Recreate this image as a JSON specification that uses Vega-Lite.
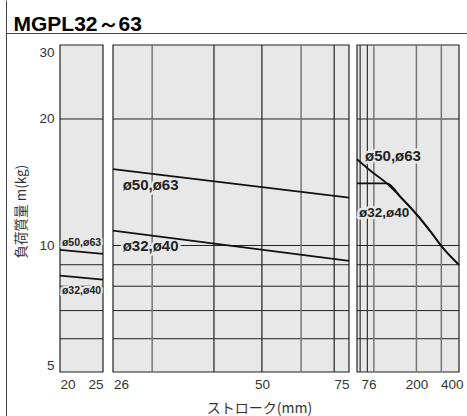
{
  "$schema": "https://vega.github.io/schema/vega-lite/v6.json",
  "width": 399,
  "height": 327,
  "autosize": {"type": "none"},
  "padding": {"left": 60, "top": 45, "right": 8, "bottom": 44},
  "background": "white",
  "config": {"view": {"stroke": null}},
  "datasets": {
    "p1lines": [
      {"s": "ø50,ø63", "x": 20, "m": 9.76}, {"s": "ø50,ø63", "x": 25, "m": 9.55},
      {"s": "ø32,ø40", "x": 20, "m": 8.48}, {"s": "ø32,ø40", "x": 25, "m": 8.29}
    ],
    "p2lines": [
      {"s": "ø50,ø63", "x": 25, "m": 15.2}, {"s": "ø50,ø63", "x": 75, "m": 13.0},
      {"s": "ø32,ø40", "x": 25, "m": 10.85}, {"s": "ø32,ø40", "x": 75, "m": 9.19}
    ],
    "p3lines": [
      {"s": "ø50,ø63", "x": 76, "m": 16.04}, {"s": "ø50,ø63", "x": 96.6, "m": 14.98},
      {"s": "ø50,ø63", "x": 123.4, "m": 14.06}, {"s": "ø50,ø63", "x": 157.7, "m": 12.95},
      {"s": "ø50,ø63", "x": 207, "m": 11.71}, {"s": "ø50,ø63", "x": 257, "m": 10.69},
      {"s": "ø50,ø63", "x": 303, "m": 9.93}, {"s": "ø50,ø63", "x": 400, "m": 8.99},
      {"s": "ø32,ø40", "x": 76, "m": 14.06}, {"s": "ø32,ø40", "x": 123.4, "m": 14.06},
      {"s": "ø32,ø40", "x": 157.7, "m": 12.95}, {"s": "ø32,ø40", "x": 207, "m": 11.71},
      {"s": "ø32,ø40", "x": 257, "m": 10.69}, {"s": "ø32,ø40", "x": 303, "m": 9.93},
      {"s": "ø32,ø40", "x": 400, "m": 8.99}
    ],
    "p1labels": [{"t": "ø50,ø63", "x": 22.5, "m": 10.14}, {"t": "ø32,ø40", "x": 22.5, "m": 7.79}],
    "p2labels": [{"t": "ø50,ø63", "x": 29.78, "m": 13.93}, {"t": "ø32,ø40", "x": 29.78, "m": 9.95}],
    "p3labelA": [{"t": "ø50,ø63", "x": 136.5, "m": 16.3}],
    "p3labelB": [{"t": "ø32,ø40", "x": 118, "m": 11.93}],
    "hgrid": [{"m": 6}, {"m": 7}, {"m": 8}, {"m": 9}, {"m": 10}, {"m": 20}],
    "one": [{"p": 1}]
  },
  "resolve": {
    "scale": {"x": "independent", "y": "independent"},
    "axis": {"x": "independent", "y": "independent"}
  },
  "layer": [
    {
      "data": {"values": []},
      "mark": {"type": "point", "opacity": 0},
      "encoding": {
        "x": {
          "field": "fx", "type": "quantitative",
          "scale": {"domain": [0, 1], "range": [-54, 407], "nice": false, "zero": false},
          "axis": {
            "orient": "top", "offset": 12, "domain": true, "domainColor": "#444", "domainWidth": 1,
            "ticks": false, "labels": false, "grid": false,
            "title": "MGPL32～63", "titleX": -47, "titleY": -3, "titleAlign": "left", "titleAnchor": "start",
            "titleBaseline": "alphabetic", "titleFont": "Liberation Sans", "titleFontSize": 21,
            "titleFontWeight": "bold", "titleColor": "#000", "titleAngle": 0
          }
        },
        "y": {
          "field": "fy", "type": "quantitative",
          "scale": {"domain": [0, 1], "range": [371, -45], "nice": false, "zero": false},
          "axis": {
            "orient": "left", "offset": 54, "domain": true, "domainColor": "#444", "domainWidth": 1,
            "ticks": false, "labels": false, "grid": false, "title": null
          }
        }
      }
    },
    {
      "data": {"name": "one"},
      "mark": {"type": "rect", "fill": "#e8e8e8", "stroke": "#222", "strokeWidth": 1.2},
      "encoding": {
        "x": {
          "datum": 20, "type": "quantitative",
          "scale": {"type": "linear", "domain": [20, 25], "range": [0, 43], "nice": false, "zero": false},
          "axis": {
            "orient": "bottom", "values": [20, 25], "labelFlush": true, "grid": false, "domain": false, "ticks": false,
            "labelPadding": 5, "labelFont": "Liberation Sans", "labelFontSize": 13.5, "labelColor": "#333", "title": null
          }
        },
        "x2": {"datum": 25},
        "y": {
          "datum": 5, "type": "quantitative",
          "scale": {"type": "log", "domain": [5, 30], "nice": false},
          "axis": {
            "orient": "left", "values": [5, 10, 20, 30], "labelFlush": true, "grid": false, "domain": false, "ticks": false,
            "labelPadding": 6, "labelFont": "Liberation Sans", "labelFontSize": 13.5, "labelColor": "#333",
            "title": "負荷質量 m(kg)", "titleFont": "Noto Sans CJK JP", "titleFontSize": 13.5, "titleFontWeight": "normal",
            "titleColor": "#333", "titleX": -39, "titleY": 166, "titleAngle": -90, "titleBaseline": "middle", "titleAlign": "center"
          }
        },
        "y2": {"datum": 30}
      }
    },
    {
      "data": {"name": "hgrid"},
      "mark": {"type": "rule", "color": "#222", "strokeWidth": 1},
      "encoding": {
        "x": {"datum": 20, "type": "quantitative", "scale": {"type": "linear", "domain": [20, 25], "range": [0, 43], "nice": false, "zero": false}, "axis": null},
        "x2": {"datum": 25},
        "y": {"field": "m", "type": "quantitative", "scale": {"type": "log", "domain": [5, 30], "nice": false}, "axis": null}
      }
    },
    {
      "data": {"name": "p1labels"},
      "mark": {"type": "text", "font": "Liberation Sans", "fontWeight": "bold", "fontSize": 10.5, "align": "center", "baseline": "middle", "stroke": "#e8e8e8", "strokeWidth": 4, "strokeJoin": "round", "fill": "#e8e8e8"},
      "encoding": {
        "x": {"field": "x", "type": "quantitative", "scale": {"type": "linear", "domain": [20, 25], "range": [0, 43], "nice": false, "zero": false}, "axis": null},
        "y": {"field": "m", "type": "quantitative", "scale": {"type": "log", "domain": [5, 30], "nice": false}, "axis": null},
        "text": {"field": "t"}
      }
    },
    {
      "data": {"name": "p1lines"},
      "mark": {"type": "line", "color": "#111", "strokeWidth": 1.8},
      "encoding": {
        "x": {"field": "x", "type": "quantitative", "scale": {"type": "linear", "domain": [20, 25], "range": [0, 43], "nice": false, "zero": false}, "axis": null},
        "y": {"field": "m", "type": "quantitative", "scale": {"type": "log", "domain": [5, 30], "nice": false}, "axis": null},
        "detail": {"field": "s"}
      }
    },
    {
      "data": {"name": "p1labels"},
      "mark": {"type": "text", "font": "Liberation Sans", "fontWeight": "bold", "fontSize": 10.5, "align": "center", "baseline": "middle", "fill": "#222"},
      "encoding": {
        "x": {"field": "x", "type": "quantitative", "scale": {"type": "linear", "domain": [20, 25], "range": [0, 43], "nice": false, "zero": false}, "axis": null},
        "y": {"field": "m", "type": "quantitative", "scale": {"type": "log", "domain": [5, 30], "nice": false}, "axis": null},
        "text": {"field": "t"}
      }
    },
    {
      "data": {"name": "one"},
      "mark": {"type": "rect", "fill": "#e8e8e8", "stroke": "#222", "strokeWidth": 1.2},
      "encoding": {
        "x": {
          "datum": 25, "type": "quantitative",
          "scale": {"type": "log", "domain": [25, 75], "range": [53, 289], "nice": false},
          "axis": {
            "orient": "bottom", "values": [26, 50, 75], "labelFlush": 10,
            "labelOffset": {"condition": {"test": "datum.value == 26", "value": -8}, "value": 0},
            "grid": false, "domain": false, "ticks": false,
            "labelPadding": 5, "labelFont": "Liberation Sans", "labelFontSize": 13.5, "labelColor": "#333",
            "title": "ストローク(mm)", "titleFont": "Noto Sans CJK JP", "titleFontSize": 14, "titleFontWeight": "normal",
            "titleColor": "#333", "titleX": 199, "titleY": 36, "titleBaseline": "middle", "titleAlign": "center", "titleAngle": 0
          }
        },
        "x2": {"datum": 75},
        "y": {"datum": 5, "type": "quantitative", "scale": {"type": "log", "domain": [5, 30], "nice": false}, "axis": null},
        "y2": {"datum": 30}
      }
    },
    {
      "data": {"name": "hgrid"},
      "mark": {"type": "rule", "color": "#222", "strokeWidth": 1},
      "encoding": {
        "x": {"datum": 25, "type": "quantitative", "scale": {"type": "log", "domain": [25, 75], "range": [53, 289], "nice": false}, "axis": null},
        "x2": {"datum": 75},
        "y": {"field": "m", "type": "quantitative", "scale": {"type": "log", "domain": [5, 30], "nice": false}, "axis": null}
      }
    },
    {
      "data": {"values": [{"x": 30}, {"x": 60}]},
      "mark": {"type": "rule", "color": "#777", "strokeWidth": 1.5},
      "encoding": {
        "x": {"field": "x", "type": "quantitative", "scale": {"type": "log", "domain": [25, 75], "range": [53, 289], "nice": false}, "axis": null},
        "y": {"datum": 5, "type": "quantitative", "scale": {"type": "log", "domain": [5, 30], "nice": false}, "axis": null},
        "y2": {"datum": 30}
      }
    },
    {
      "data": {"values": [{"x": 40}, {"x": 50}, {"x": 70}]},
      "mark": {"type": "rule", "color": "#222", "strokeWidth": 1.2},
      "encoding": {
        "x": {"field": "x", "type": "quantitative", "scale": {"type": "log", "domain": [25, 75], "range": [53, 289], "nice": false}, "axis": null},
        "y": {"datum": 5, "type": "quantitative", "scale": {"type": "log", "domain": [5, 30], "nice": false}, "axis": null},
        "y2": {"datum": 30}
      }
    },
    {
      "data": {"name": "p2labels"},
      "mark": {"type": "text", "font": "Liberation Sans", "fontWeight": "bold", "fontSize": 15, "align": "center", "baseline": "middle", "stroke": "#e8e8e8", "strokeWidth": 5, "strokeJoin": "round", "fill": "#e8e8e8"},
      "encoding": {
        "x": {"field": "x", "type": "quantitative", "scale": {"type": "log", "domain": [25, 75], "range": [53, 289], "nice": false}, "axis": null},
        "y": {"field": "m", "type": "quantitative", "scale": {"type": "log", "domain": [5, 30], "nice": false}, "axis": null},
        "text": {"field": "t"}
      }
    },
    {
      "data": {"name": "p2lines"},
      "mark": {"type": "line", "color": "#111", "strokeWidth": 1.8},
      "encoding": {
        "x": {"field": "x", "type": "quantitative", "scale": {"type": "log", "domain": [25, 75], "range": [53, 289], "nice": false}, "axis": null},
        "y": {"field": "m", "type": "quantitative", "scale": {"type": "log", "domain": [5, 30], "nice": false}, "axis": null},
        "detail": {"field": "s"}
      }
    },
    {
      "data": {"name": "p2labels"},
      "mark": {"type": "text", "font": "Liberation Sans", "fontWeight": "bold", "fontSize": 15, "align": "center", "baseline": "middle", "fill": "#222"},
      "encoding": {
        "x": {"field": "x", "type": "quantitative", "scale": {"type": "log", "domain": [25, 75], "range": [53, 289], "nice": false}, "axis": null},
        "y": {"field": "m", "type": "quantitative", "scale": {"type": "log", "domain": [5, 30], "nice": false}, "axis": null},
        "text": {"field": "t"}
      }
    },
    {
      "data": {"name": "one"},
      "mark": {"type": "rect", "fill": "#e8e8e8", "stroke": "#222", "strokeWidth": 1.2},
      "encoding": {
        "x": {
          "datum": 76, "type": "quantitative",
          "scale": {"type": "log", "domain": [76, 400], "range": [297, 399], "nice": false},
          "axis": {
            "orient": "bottom", "values": [76, 200, 400], "labelFlush": 10,
            "labelOffset": {"condition": {"test": "datum.value != 200", "value": 4}, "value": 0},
            "grid": false, "domain": false, "ticks": false,
            "labelPadding": 5, "labelFont": "Liberation Sans", "labelFontSize": 13.5, "labelColor": "#333", "title": null
          }
        },
        "x2": {"datum": 400},
        "y": {"datum": 5, "type": "quantitative", "scale": {"type": "log", "domain": [5, 30], "nice": false}, "axis": null},
        "y2": {"datum": 30}
      }
    },
    {
      "data": {"name": "hgrid"},
      "mark": {"type": "rule", "color": "#222", "strokeWidth": 1},
      "encoding": {
        "x": {"datum": 76, "type": "quantitative", "scale": {"type": "log", "domain": [76, 400], "range": [297, 399], "nice": false}, "axis": null},
        "x2": {"datum": 400},
        "y": {"field": "m", "type": "quantitative", "scale": {"type": "log", "domain": [5, 30], "nice": false}, "axis": null}
      }
    },
    {
      "data": {"values": [{"x": 100}, {"x": 200}, {"x": 300}]},
      "mark": {"type": "rule", "color": "#777", "strokeWidth": 1.5},
      "encoding": {
        "x": {"field": "x", "type": "quantitative", "scale": {"type": "log", "domain": [76, 400], "range": [297, 399], "nice": false}, "axis": null},
        "y": {"datum": 5, "type": "quantitative", "scale": {"type": "log", "domain": [5, 30], "nice": false}, "axis": null},
        "y2": {"datum": 30}
      }
    },
    {
      "data": {"values": [{"x": 80}, {"x": 90}]},
      "mark": {"type": "rule", "color": "#333", "strokeWidth": 1.2},
      "encoding": {
        "x": {"field": "x", "type": "quantitative", "scale": {"type": "log", "domain": [76, 400], "range": [297, 399], "nice": false}, "axis": null},
        "y": {"datum": 5, "type": "quantitative", "scale": {"type": "log", "domain": [5, 30], "nice": false}, "axis": null},
        "y2": {"datum": 30}
      }
    },
    {
      "data": {"name": "p3labelA"},
      "mark": {"type": "text", "font": "Liberation Sans", "fontWeight": "bold", "fontSize": 15, "align": "center", "baseline": "middle", "stroke": "#e8e8e8", "strokeWidth": 5, "strokeJoin": "round", "fill": "#e8e8e8"},
      "encoding": {
        "x": {"field": "x", "type": "quantitative", "scale": {"type": "log", "domain": [76, 400], "range": [297, 399], "nice": false}, "axis": null},
        "y": {"field": "m", "type": "quantitative", "scale": {"type": "log", "domain": [5, 30], "nice": false}, "axis": null},
        "text": {"field": "t"}
      }
    },
    {
      "data": {"name": "p3labelB"},
      "mark": {"type": "text", "font": "Liberation Sans", "fontWeight": "bold", "fontSize": 13.5, "align": "center", "baseline": "middle", "stroke": "#e8e8e8", "strokeWidth": 5, "strokeJoin": "round", "fill": "#e8e8e8"},
      "encoding": {
        "x": {"field": "x", "type": "quantitative", "scale": {"type": "log", "domain": [76, 400], "range": [297, 399], "nice": false}, "axis": null},
        "y": {"field": "m", "type": "quantitative", "scale": {"type": "log", "domain": [5, 30], "nice": false}, "axis": null},
        "text": {"field": "t"}
      }
    },
    {
      "data": {"name": "p3lines"},
      "mark": {"type": "line", "color": "#111", "strokeWidth": 1.8, "interpolate": "monotone"},
      "encoding": {
        "x": {"field": "x", "type": "quantitative", "scale": {"type": "log", "domain": [76, 400], "range": [297, 399], "nice": false}, "axis": null},
        "y": {"field": "m", "type": "quantitative", "scale": {"type": "log", "domain": [5, 30], "nice": false}, "axis": null},
        "detail": {"field": "s"}
      }
    },
    {
      "data": {"name": "p3labelA"},
      "mark": {"type": "text", "font": "Liberation Sans", "fontWeight": "bold", "fontSize": 15, "align": "center", "baseline": "middle", "fill": "#222"},
      "encoding": {
        "x": {"field": "x", "type": "quantitative", "scale": {"type": "log", "domain": [76, 400], "range": [297, 399], "nice": false}, "axis": null},
        "y": {"field": "m", "type": "quantitative", "scale": {"type": "log", "domain": [5, 30], "nice": false}, "axis": null},
        "text": {"field": "t"}
      }
    },
    {
      "data": {"name": "p3labelB"},
      "mark": {"type": "text", "font": "Liberation Sans", "fontWeight": "bold", "fontSize": 13.5, "align": "center", "baseline": "middle", "fill": "#222"},
      "encoding": {
        "x": {"field": "x", "type": "quantitative", "scale": {"type": "log", "domain": [76, 400], "range": [297, 399], "nice": false}, "axis": null},
        "y": {"field": "m", "type": "quantitative", "scale": {"type": "log", "domain": [5, 30], "nice": false}, "axis": null},
        "text": {"field": "t"}
      }
    }
  ]
}
